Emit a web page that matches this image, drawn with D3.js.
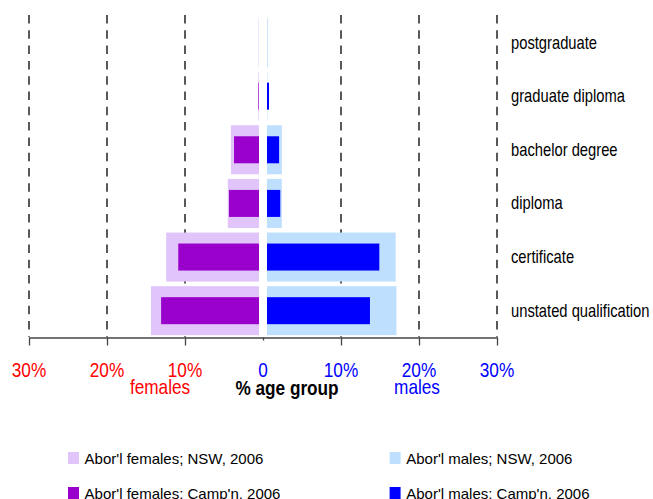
<!DOCTYPE html>
<html>
<head>
<meta charset="utf-8">
<script src="https://cdn.jsdelivr.net/npm/d3@7"></script>
<style>
  body { margin: 0; background: #fff; }
  svg text { font-family: "Liberation Sans", Arial, sans-serif; }
</style>
</head>
<body>
<svg id="chart"></svg>
<script>
// data, % of age group
const levels = ["postgraduate", "graduate diploma", "bachelor degree", "diploma", "certificate", "unstated qualification"];
const femalesNSW = [0.05, 0.08, 3.6, 4.0, 11.9, 13.85];
const femalesCamp = [0, 0.08, 3.2, 3.85, 10.35, 12.55];
const malesNSW = [0.1, 0.05, 1.9, 1.9, 16.5, 16.6];
const malesCamp = [0, 0.26, 1.55, 1.7, 14.4, 13.2];
const tickValues = [-30, -20, -10, 0, 10, 20, 30];
const legendLabels = ["Abor'l females; NSW, 2006", "Abor'l males; NSW, 2006",
                      "Abor'l females; Camp'n, 2006", "Abor'l males; Camp'n, 2006"];

const colors = { fNSW: "#e0c4fa", fCamp: "#9900cc", mNSW: "#bfdfff", mCamp: "#0000ff" };

const width = 653, height = 499;
const gap = 4;
const narrow = 0.82; // text is a narrow helvetica in the original

const svg = d3.select("#chart")
  .attr("width", width)
  .attr("height", height);

const x = d3.scaleLinear()
  .domain([-30, 30])
  .range([29, 497]);

// bar length scale
const w = d3.scaleLinear()
  .domain([0, 30])
  .range([0, x(30) - x(0)]);

const y = d3.scaleBand()
  .domain(levels)
  .range([15.7, 337.5])
  .paddingInner(0.086)
  .paddingOuter(0.043);

const x0 = x(0);

// places a text squeezed horizontally
function place(px, py) {
  return `translate(${px},${py}) scale(${narrow},1)`;
}

// dashed grid lines
svg.append("g")
  .selectAll("line")
  .data(tickValues.filter(d => d !== 0))
  .join("line")
  .attr("x1", d => x(d))
  .attr("x2", d => x(d))
  .attr("y1", 15)
  .attr("y2", 337)
  .attr("stroke", "#000")
  .attr("stroke-width", 1.3)
  .attr("stroke-dasharray", "8.5,6.8");

const rows = levels.map((l, i) => ({
  level: l, fNSW: femalesNSW[i], fCamp: femalesCamp[i], mNSW: malesNSW[i], mCamp: malesCamp[i]
}));

const darkH = 27;

// NSW (wide, light) bars
svg.selectAll(".fnsw")
  .data(rows)
  .join("rect")
  .attr("class", "fnsw")
  .attr("x", d => x0 - gap - w(d.fNSW))
  .attr("y", d => y(d.level))
  .attr("width", d => w(d.fNSW))
  .attr("height", y.bandwidth())
  .attr("fill", colors.fNSW);

svg.selectAll(".mnsw")
  .data(rows)
  .join("rect")
  .attr("class", "mnsw")
  .attr("x", x0 + gap)
  .attr("y", d => y(d.level))
  .attr("width", d => w(d.mNSW))
  .attr("height", y.bandwidth())
  .attr("fill", colors.mNSW);

// Campbelltown (narrow, dark) bars
svg.selectAll(".fcamp")
  .data(rows)
  .join("rect")
  .attr("class", "fcamp")
  .attr("x", d => x0 - gap - w(d.fCamp))
  .attr("y", d => y(d.level) + (y.bandwidth() - darkH) / 2)
  .attr("width", d => w(d.fCamp))
  .attr("height", darkH)
  .attr("fill", colors.fCamp);

svg.selectAll(".mcamp")
  .data(rows)
  .join("rect")
  .attr("class", "mcamp")
  .attr("x", x0 + gap)
  .attr("y", d => y(d.level) + (y.bandwidth() - darkH) / 2)
  .attr("width", d => w(d.mCamp))
  .attr("height", darkH)
  .attr("fill", colors.mCamp);

// category labels on the right
svg.selectAll(".cat")
  .data(levels)
  .join("text")
  .attr("class", "cat")
  .attr("transform", d => place(511, y(d) + y.bandwidth() / 2 + 6))
  .style("font-size", "18px")
  .attr("fill", "#000")
  .text(d => d);

// x axis
const axis = svg.append("g")
  .attr("transform", "translate(0,337.5)")
  .call(d3.axisBottom(x).tickValues(tickValues).tickSize(8).tickFormat("").tickSizeOuter(0));
axis.select(".domain").attr("stroke", "#444").attr("stroke-width", 1.6);
axis.selectAll(".tick line").attr("stroke", "#444").attr("stroke-width", 1.3)
  .attr("y2", d => d === 0 ? 3 : 8);

svg.selectAll(".ticklabel")
  .data(tickValues)
  .join("text")
  .attr("class", "ticklabel")
  .attr("transform", d => place(x(d), 377))
  .attr("text-anchor", "middle")
  .style("font-size", "21px")
  .attr("fill", d => d < 0 ? "#ff0000" : "#0000ff")
  .text(d => d === 0 ? "0" : Math.abs(d) + "%");

svg.append("text")
  .attr("transform", place(160, 394))
  .attr("text-anchor", "middle")
  .style("font-size", "21px")
  .attr("fill", "#ff0000")
  .text("females");

svg.append("text")
  .attr("transform", place(287, 395))
  .attr("text-anchor", "middle")
  .style("font-size", "21px")
  .style("font-weight", "bold")
  .attr("fill", "#000")
  .text("% age group");

svg.append("text")
  .attr("transform", place(417, 394))
  .attr("text-anchor", "middle")
  .style("font-size", "21px")
  .attr("fill", "#0000ff")
  .text("males");

// legend
const legendColors = [colors.fNSW, colors.mNSW, colors.fCamp, colors.mCamp];
const legend = svg.selectAll(".legend")
  .data(legendLabels)
  .join("g")
  .attr("class", "legend")
  .attr("transform", (d, i) => `translate(${i % 2 ? 389.6 : 68},${452 + Math.floor(i / 2) * 35})`);

legend.append("rect")
  .attr("width", 11)
  .attr("height", 12)
  .attr("fill", (d, i) => legendColors[i]);

legend.append("text")
  .attr("x", 16.6)
  .attr("y", 12)
  .style("font-size", "15px")
  .attr("fill", "#000")
  .text(d => d);
</script>
</body>
</html>
